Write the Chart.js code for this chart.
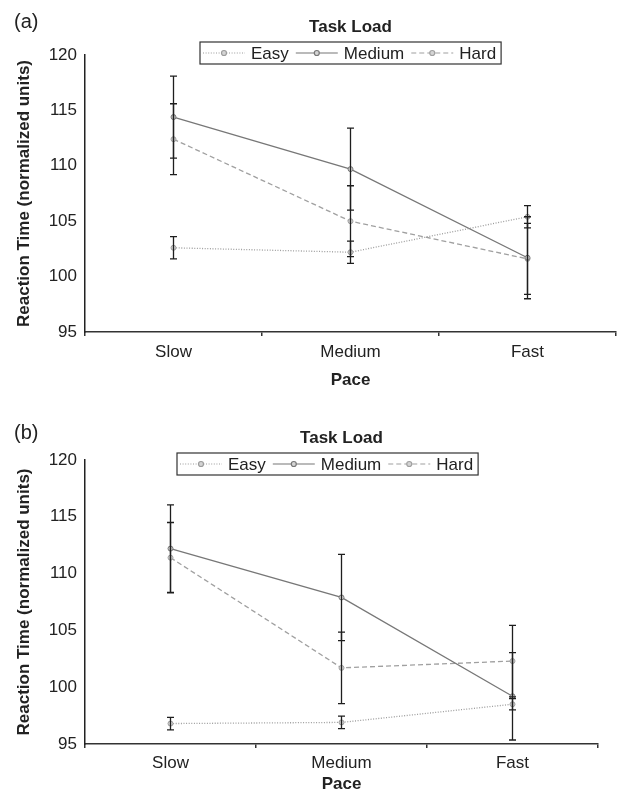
<!DOCTYPE html>
<html>
<head>
<meta charset="utf-8">
<script src="https://cdn.jsdelivr.net/npm/chart.js@4.4.0/dist/chart.umd.min.js"></script>
<style>
  html, body { margin: 0; padding: 0; background: #fff; overflow: hidden; }
  body { width: 621px; height: 795px; position: relative; font-family: "Liberation Sans", Arial, sans-serif; }
  .panel { position: absolute; left: 0; width: 621px; }
  .tag { position: absolute; left: 14px; font-size: 20px; color: #222; line-height: 24px; }
</style>
</head>
<body>
<div class="panel" style="top:0;height:395px"><canvas id="chartA"></canvas></div>
<div class="panel" style="top:405px;height:390px"><canvas id="chartB"></canvas></div>
<div class="tag" style="top:9px">(a)</div>
<div class="tag" style="top:420px">(b)</div>
<script>
// categories and tick labels
const paces = ["Slow", "Medium", "Fast"];
const loads = ["Easy", "Medium", "Hard"];
const yTicks = [95, 100, 105, 110, 115, 120];

// panel (a) means and error half-widths
const easyA = [102.6, 102.2, 105.4];
const mediumA = [114.4, 109.7, 101.7];
const hardA = [112.4, 105.0, 101.6];
const easyErrA = [1.0, 1.0, 1.0];
const mediumErrA = [3.7, 3.7, 3.7];
const hardErrA = [3.2, 3.2, 3.2];

// panel (b)
const easyB = [96.8, 96.9, 98.5];
const mediumB = [112.2, 107.9, 99.2];
const hardB = [111.4, 101.7, 102.3];
const easyErrB = [0.55, 0.55, 0.5];
const mediumErrB = [3.85, 3.8, 3.85];
const hardErrB = [3.1, 3.15, 3.15];

const FONT = "'Liberation Sans', Arial, sans-serif";
const INK = "#222";
const looks = [
  { color: "#9c9c9c", dash: [1, 1.6] },
  { color: "#777777", dash: [] },
  { color: "#a0a0a0", dash: [5, 3] }
];

const errorBars = {
  id: "errorBars",
  afterDatasetsDraw(chart) {
    const { ctx, scales: { y } } = chart;
    ctx.save();
    ctx.strokeStyle = "#1e1e1e";
    ctx.lineWidth = 1.3;
    chart.data.datasets.forEach((ds, di) => {
      const meta = chart.getDatasetMeta(di);
      ds.data.forEach((v, i) => {
        const px = meta.data[i].x;
        const top = y.getPixelForValue(v + ds.err[i]);
        const bot = y.getPixelForValue(v - ds.err[i]);
        ctx.beginPath();
        ctx.moveTo(px, top); ctx.lineTo(px, bot);
        ctx.moveTo(px - 3.5, top); ctx.lineTo(px + 3.5, top);
        ctx.moveTo(px - 3.5, bot); ctx.lineTo(px + 3.5, bot);
        ctx.stroke();
      });
    });
    ctx.restore();
  }
};

// legend in a framed box, line sample with a marker like the original
const boxLegend = {
  id: "boxLegend",
  afterDraw(chart, args, opts) {
    const ctx = chart.ctx;
    const sample = 42, gap = 6, after = 7, pad = 3, h = 22;
    ctx.save();
    ctx.font = "17px " + FONT;
    const widths = chart.data.datasets.map(ds => ctx.measureText(ds.label).width);
    let total = pad + 5;
    widths.forEach((w, i) => { total += sample + gap + w + (i < widths.length - 1 ? after : 0); });
    const left = opts.left, top = opts.top, mid = top + h / 2;
    ctx.fillStyle = "#fff";
    ctx.fillRect(left, top, total, h);
    ctx.strokeStyle = "#333";
    ctx.lineWidth = 1.2;
    ctx.strokeRect(left, top, total, h);
    let x = left + pad;
    chart.data.datasets.forEach((ds, i) => {
      ctx.strokeStyle = ds.borderColor;
      ctx.lineWidth = 1.2;
      ctx.setLineDash(ds.borderDash);
      ctx.beginPath();
      ctx.moveTo(x, mid); ctx.lineTo(x + sample, mid);
      ctx.stroke();
      ctx.setLineDash([]);
      ctx.beginPath();
      ctx.arc(x + sample / 2, mid, 2.5, 0, Math.PI * 2);
      ctx.fillStyle = "#d4d4d4";
      ctx.fill();
      ctx.stroke();
      ctx.fillStyle = INK;
      ctx.textBaseline = "middle";
      ctx.textAlign = "left";
      ctx.fillText(ds.label, x + sample + gap, mid + 1);
      x += sample + gap + widths[i] + after;
    });
    ctx.restore();
  }
};

function makeSets(values, errs) {
  return loads.map((name, i) => ({
    label: name,
    data: values[i],
    err: errs[i],
    borderColor: looks[i].color,
    borderDash: looks[i].dash,
    borderWidth: 1.3,
    pointRadius: 2.5,
    pointBorderWidth: 1,
    pointBorderColor: looks[i].color,
    pointBackgroundColor: "#d4d4d4",
    tension: 0,
    fill: false
  }));
}

function makeChart(id, values, errs, cfg) {
  return new Chart(document.getElementById(id), {
    type: "line",
    data: { labels: paces, datasets: makeSets(values, errs) },
    options: {
      responsive: true,
      maintainAspectRatio: false,
      animation: false,
      layout: { padding: { left: 0, right: cfg.right, top: 0, bottom: 0 } },
      plugins: {
        legend: { display: false },
        tooltip: { enabled: false },
        title: {
          display: true,
          text: "Task Load",
          fullSize: false,
          color: INK,
          font: { family: FONT, size: 17, weight: "bold" },
          padding: cfg.titlePad
        },
        boxLegend: { left: cfg.legendLeft, top: cfg.legendTop }
      },
      scales: {
        x: {
          offset: true,
          afterFit: s => { s.height = cfg.xHeight; },
          grid: { display: true, offset: true, drawOnChartArea: false, drawTicks: true, tickLength: 4, color: "#333", lineWidth: 1.5 },
          border: { display: true, color: "#333", width: 1.5 },
          ticks: { color: INK, padding: cfg.xTickPad, font: { family: FONT, size: 17 } },
          title: { display: true, text: "Pace", color: INK, font: { family: FONT, size: 17, weight: "bold" }, padding: { top: 0, bottom: cfg.xTitleBottom } }
        },
        y: {
          min: yTicks[0],
          max: yTicks[yTicks.length - 1],
          afterBuildTicks: s => { s.ticks = yTicks.map(v => ({ value: v })); },
          afterFit: s => { s.width = 85; },
          grid: { display: true, drawOnChartArea: false, drawTicks: false },
          border: { display: true, color: "#222", width: 1.5 },
          ticks: { color: INK, padding: 8, font: { family: FONT, size: 17 } },
          title: { display: true, text: "Reaction Time (normalized units)", color: INK, font: { family: FONT, size: 17, weight: "bold" }, padding: { top: 14, bottom: 0 } }
        }
      }
    },
    plugins: [errorBars, boxLegend]
  });
}

makeChart("chartA", [easyA, mediumA, hardA], [easyErrA, mediumErrA, hardErrA], {
  right: 2, legendLeft: 200, legendTop: 42,
  titlePad: { top: 17, bottom: 17.6 }, xHeight: 63, xTickPad: 6, xTitleBottom: 4
});
makeChart("chartB", [easyB, mediumB, hardB], [easyErrB, mediumErrB, hardErrB], {
  right: 23, legendLeft: 177, legendTop: 48,
  titlePad: { top: 23, bottom: 11.6 }, xHeight: 51, xTickPad: 5, xTitleBottom: 0
});
</script>
</body>
</html>
